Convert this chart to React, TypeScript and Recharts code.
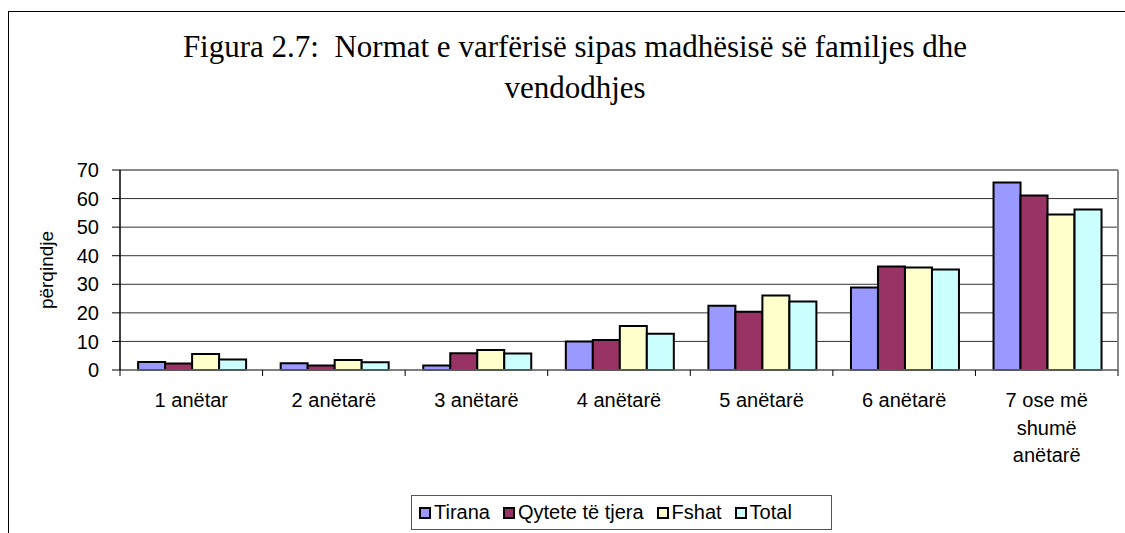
import React from 'react';
import { BarChart, Bar, XAxis, YAxis, CartesianGrid, ReferenceLine } from 'recharts';

const categories = ['1 anëtar', '2 anëtarë', '3 anëtarë', '4 anëtarë', '5 anëtarë', '6 anëtarë', '7 ose më shumë anëtarë'];
const tirana = [2.8, 2.4, 1.6, 10.0, 22.5, 28.9, 65.6];
const qytete = [2.3, 1.6, 5.9, 10.5, 20.4, 36.2, 61.1];
const fshat = [5.6, 3.5, 7.0, 15.4, 26.1, 35.9, 54.4];
const total = [3.7, 2.7, 5.8, 12.7, 24.0, 35.2, 56.2];
const yTicks = [0, 10, 20, 30, 40, 50, 60, 70];

const series = [
    { key: 'tirana', name: 'Tirana', color: '#9999FF', values: tirana },
    { key: 'qytete', name: 'Qytete të tjera', color: '#993366', values: qytete },
    { key: 'fshat', name: 'Fshat', color: '#FFFFCC', values: fshat },
    { key: 'total', name: 'Total', color: '#CCFFFF', values: total },
];

const W = 1125;
const H = 533;
const PLOT_LEFT = 120;
const PLOT_RIGHT = 1118;
const BAND = (PLOT_RIGHT - PLOT_LEFT) / categories.length;
const SANS = '"Liberation Sans", Arial, sans-serif';

// simple greedy wrap, Excel breaks the last label into three lines
const wrap = (s: string, max = 10) => {
    const out: string[] = [];
    let cur = '';
    s.split(' ').forEach(w => {
        if (cur && (cur + ' ' + w).length > max) {
            out.push(cur);
            cur = w;
        } else {
            cur = cur ? cur + ' ' + w : w;
        }
    });
    if (cur) out.push(cur);
    return out;
};

const CatTick = (props: any) => {
    const { x, y, payload, index } = props;
    const lines = wrap(String(payload.value));
    const half = BAND / 2;
    return (
        <g>
            <line x1={x - half} x2={x - half} y1={y} y2={y + 6} stroke="#000" />
            {index === categories.length - 1 && (
                <line x1={x + half} x2={x + half} y1={y} y2={y + 6} stroke="#000" />
            )}
            <text x={x} y={y + 37} textAnchor="middle" fontSize={20} fontFamily={SANS} fill="#000">
                {lines.map((l, i) => (
                    <tspan key={i} x={x} dy={i === 0 ? 0 : 27.5}>{l}</tspan>
                ))}
            </text>
        </g>
    );
};

const YLabel = (props: any) => {
    const { viewBox } = props;
    const cy = viewBox.y + viewBox.height / 2;
    return (
        <text x={46} y={cy} transform={`rotate(-90 46 ${cy})`} textAnchor="middle" dominantBaseline="central"
            fontSize={19} fontFamily={SANS} fill="#000">
            përqindje
        </text>
    );
};

export default function App() {
    const data = categories.map((name, i) => {
        const row: any = { name };
        series.forEach(s => { row[s.key] = s.values[i]; });
        return row;
    });

    return (
        <div style={{ position: 'relative', width: W, height: H, overflow: 'hidden', background: '#fff' }}>
            <style>{'body{margin:0}'}</style>
            <div style={{ position: 'absolute', left: 8, top: 11, width: 1300, height: 700, border: '1px solid #000' }} />
            <div style={{
                position: 'absolute', left: 0, top: 26, width: 1150, textAlign: 'center',
                fontFamily: '"Liberation Serif", "Times New Roman", serif', fontSize: 31, lineHeight: '41px', color: '#000'
            }}>
                Figura 2.7:&nbsp; Normat e varfërisë sipas madhësisë së familjes dhe<br />vendodhjes
            </div>
            <div style={{ position: 'absolute', left: 0, top: 0 }}>
                <BarChart width={W} height={H} data={data}
                    margin={{ top: 170, right: 6, left: 60, bottom: 63 }}
                    barCategoryGap="12.7%" barGap={0}>
                    <CartesianGrid vertical={false} stroke="#333" />
                    <XAxis dataKey="name" height={100} interval={0} tickLine={false} tickSize={0} tickMargin={0}
                        axisLine={{ stroke: '#777', strokeWidth: 1.5 }} tick={<CatTick />} />
                    <YAxis domain={[0, 70]} ticks={yTicks} width={60} tickSize={8} tickMargin={13}
                        axisLine={{ stroke: '#000', strokeWidth: 1.5 }} tickLine={{ stroke: '#000' }}
                        tick={{ fontSize: 20, fontFamily: SANS, fill: '#000' }}
                        label={<YLabel />} />
                    <YAxis yAxisId="r" orientation="right" domain={[0, 70]} ticks={yTicks} width={1}
                        tick={false} tickLine={false} axisLine={{ stroke: '#888', strokeWidth: 2 }} />
                    <ReferenceLine y={70} stroke="#888" strokeWidth={2} />
                    {series.map(s => (
                        <Bar key={s.key} dataKey={s.key} name={s.name} fill={s.color}
                            stroke="#000" strokeWidth={2} isAnimationActive={false} />
                    ))}
                </BarChart>
            </div>
            <div style={{
                position: 'absolute', left: 411, top: 495, width: 412, height: 33, border: '1px solid #555',
                display: 'flex', alignItems: 'center', paddingLeft: 7, boxSizing: 'content-box',
                fontFamily: SANS, fontSize: 20, color: '#000'
            }}>
                {series.map(s => (
                    <div key={s.key} style={{ display: 'flex', alignItems: 'center', marginRight: 13 }}>
                        <span style={{
                            display: 'inline-block', width: 8, height: 8, border: '2px solid #000',
                            background: s.color, marginRight: 3
                        }} />
                        <span>{s.name}</span>
                    </div>
                ))}
            </div>
        </div>
    );
}
